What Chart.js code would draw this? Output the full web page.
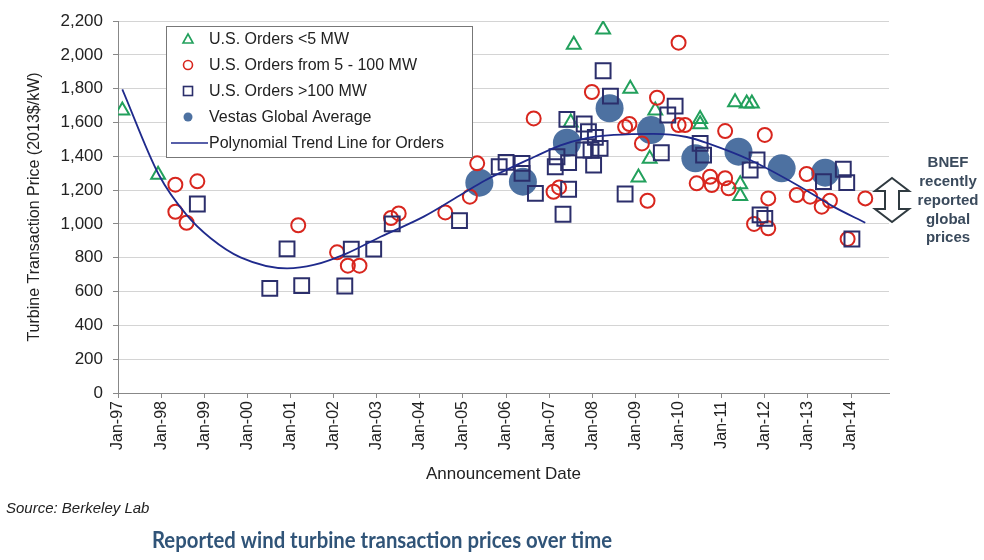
<!DOCTYPE html>
<html>
<head>
<meta charset="utf-8">
<script src="https://cdn.jsdelivr.net/npm/chart.js@4.4.1/dist/chart.umd.min.js"></script>
<style>
html, body { margin: 0; padding: 0; background: #fff; }
</style>
</head>
<body>
<canvas id="turbineChart" width="984" height="560"></canvas>
<script>
// values: [decimal year, $/kW]
var smallOrders = [
    [1997.1, 1670], [1997.93, 1290], [2007.5, 1600], [2007.57, 2060], [2008.25, 2150],
    [2008.88, 1800], [2009.07, 1275], [2009.33, 1385], [2009.46, 1670], [2010.5, 1620],
    [2010.5, 1590], [2011.31, 1720], [2011.58, 1712], [2011.7, 1712], [2011.43, 1235],
    [2011.43, 1165]
];
var midOrders = [
    [1998.33, 1232], [1998.84, 1252], [1998.33, 1072], [1998.59, 1007], [2001.18, 992],
    [2002.08, 832], [2002.33, 753], [2002.6, 753], [2003.33, 1035], [2003.51, 1062],
    [2004.59, 1068], [2005.16, 1161], [2005.33, 1358], [2006.64, 1624], [2007.1, 1190],
    [2007.23, 1216], [2007.99, 1780], [2008.76, 1573], [2008.86, 1591], [2009.15, 1476],
    [2009.28, 1137], [2009.5, 1746], [2010.0, 2072], [2010.0, 1585], [2010.15, 1585],
    [2010.42, 1240], [2010.73, 1279], [2010.77, 1230], [2011.08, 1549], [2011.08, 1270],
    [2011.16, 1211], [2012.0, 1526], [2012.08, 1151], [2011.75, 1000], [2012.08, 974],
    [2012.97, 1295], [2012.74, 1171], [2013.05, 1161], [2013.32, 1102], [2013.51, 1137],
    [2014.33, 1151], [2013.92, 911]
];
var largeOrders = [
    [1998.84, 1118], [2000.52, 619], [2000.92, 852], [2001.26, 635], [2002.26, 633],
    [2002.41, 851], [2002.93, 851], [2003.36, 1000], [2004.92, 1019], [2005.84, 1338],
    [2006.0, 1364], [2006.37, 1358], [2006.37, 1299], [2006.68, 1181], [2007.14, 1338],
    [2007.18, 1397], [2007.32, 1057], [2007.45, 1205], [2007.41, 1618], [2007.45, 1362],
    [2007.81, 1591], [2007.91, 1545], [2007.8, 1437], [2007.97, 1437], [2008.03, 1348],
    [2008.18, 1447], [2008.07, 1512], [2008.25, 1906], [2008.42, 1756], [2008.76, 1177],
    [2009.6, 1421], [2009.92, 1697], [2009.75, 1644], [2010.5, 1476], [2010.58, 1407],
    [2011.82, 1378], [2011.66, 1319], [2011.89, 1053], [2012.0, 1033], [2013.36, 1250],
    [2013.82, 1323], [2013.9, 1244], [2014.02, 911]
];
var vestasAverage = [
    [2005.38, 1244], [2006.39, 1250], [2007.41, 1480], [2008.4, 1684], [2009.36, 1555],
    [2010.39, 1388], [2011.39, 1427], [2012.39, 1329], [2013.4, 1303]
];
var trendLine = [
    [1997.1, 1796], [1997.95, 1289], [1998.59, 1053], [1999.15, 915], [1999.84, 802],
    [2000.92, 737], [2001.54, 757], [2002.31, 826], [2003.09, 924], [2004.09, 1043],
    [2005.0, 1180], [2005.5, 1255], [2006.66, 1397], [2007.26, 1465], [2007.82, 1505],
    [2008.5, 1526], [2009.42, 1533], [2010.19, 1514], [2010.73, 1472], [2011.66, 1378],
    [2012.82, 1220], [2013.59, 1102], [2014.33, 1007]
];

var seriesNames = ['U.S. Orders <5 MW', 'U.S. Orders from 5 - 100 MW', 'U.S. Orders >100 MW',
    'Vestas Global Average', 'Polynomial Trend Line for Orders'];
var bnefLines = ['BNEF', 'recently', 'reported', 'global', 'prices'];
var xAxisTitle = 'Announcement Date';
var yAxisTitle = 'Turbine Transaction Price (2013$/kW)';
var sourceNote = 'Source: Berkeley Lab';
var bottomTitle = 'Reported wind turbine transaction prices over time';

var GREEN = '#22a05c';
var RED = '#d8261e';
var NAVY = '#2b2e6b';
var STEEL = '#4d71a1';
var TREND = '#1f2a8c';
var FONT = '"Liberation Sans", Arial, sans-serif';

function toPoints(pairs) {
    return pairs.map(function (p) { return { x: p[0], y: p[1] }; });
}

// legend box drawn inside the plot, like the original
function drawLegend(ctx) {
    var left = 166, top = 26, w = 306, h = 131;
    var rows = [39, 65, 91, 117, 143];
    var mx = 188, tx = 209;
    ctx.save();
    ctx.fillStyle = '#fff';
    ctx.fillRect(left, top, w, h);
    ctx.strokeStyle = '#777';
    ctx.lineWidth = 1;
    ctx.strokeRect(left + 0.5, top + 0.5, w, h);

    ctx.lineWidth = 1.6;
    // triangle
    ctx.strokeStyle = GREEN;
    ctx.beginPath();
    ctx.moveTo(mx, rows[0] - 5);
    ctx.lineTo(mx + 5, rows[0] + 4);
    ctx.lineTo(mx - 5, rows[0] + 4);
    ctx.closePath();
    ctx.stroke();
    // circle
    ctx.strokeStyle = RED;
    ctx.beginPath();
    ctx.arc(mx, rows[1], 4.5, 0, Math.PI * 2);
    ctx.stroke();
    // square
    ctx.strokeStyle = NAVY;
    ctx.strokeRect(mx - 4.5, rows[2] - 4.5, 9, 9);
    // filled dot
    ctx.fillStyle = STEEL;
    ctx.beginPath();
    ctx.arc(mx, rows[3], 4.5, 0, Math.PI * 2);
    ctx.fill();
    // line
    ctx.strokeStyle = TREND;
    ctx.lineWidth = 1.6;
    ctx.beginPath();
    ctx.moveTo(171, rows[4]);
    ctx.lineTo(208, rows[4]);
    ctx.stroke();

    ctx.fillStyle = '#222';
    ctx.font = '16px ' + FONT;
    ctx.textBaseline = 'middle';
    for (var i = 0; i < seriesNames.length; i++) {
        ctx.fillText(seriesNames[i], tx, rows[i] + 1);
    }
    ctx.restore();
}

function drawBnef(ctx) {
    var cx = 892, top = 178, bottom = 222, hw = 17, sw = 7, hh = 13;
    ctx.save();
    ctx.beginPath();
    ctx.moveTo(cx, top);
    ctx.lineTo(cx + hw, top + hh);
    ctx.lineTo(cx + sw, top + hh);
    ctx.lineTo(cx + sw, bottom - hh);
    ctx.lineTo(cx + hw, bottom - hh);
    ctx.lineTo(cx, bottom);
    ctx.lineTo(cx - hw, bottom - hh);
    ctx.lineTo(cx - sw, bottom - hh);
    ctx.lineTo(cx - sw, top + hh);
    ctx.lineTo(cx - hw, top + hh);
    ctx.closePath();
    ctx.fillStyle = '#fff';
    ctx.fill();
    ctx.strokeStyle = '#2f3a40';
    ctx.lineWidth = 2;
    ctx.stroke();

    ctx.fillStyle = '#3a4a5c';
    ctx.font = 'bold 15px ' + FONT;
    ctx.textAlign = 'center';
    ctx.textBaseline = 'middle';
    for (var i = 0; i < bnefLines.length; i++) {
        ctx.fillText(bnefLines[i], 948, 163 + i * 18.8);
    }
    ctx.restore();
}

var extrasPlugin = {
    id: 'extras',
    afterDraw: function (chart) {
        var ctx = chart.ctx;
        drawLegend(ctx);
        drawBnef(ctx);
        ctx.save();
        ctx.textBaseline = 'middle';
        ctx.fillStyle = '#222';
        ctx.font = 'italic 15px ' + FONT;
        ctx.fillText(sourceNote, 6, 509);
        ctx.fillStyle = '#305478';
        ctx.font = 'bold 23px Lato, "Open Sans", sans-serif';
        ctx.fillText(bottomTitle, 152, 541, 460);
        ctx.restore();
    }
};

var ctx = document.getElementById('turbineChart').getContext('2d');
new Chart(ctx, {
    type: 'scatter',
    data: {
        datasets: [
            {
                label: seriesNames[4],
                data: toPoints(trendLine),
                showLine: true,
                borderColor: TREND,
                borderWidth: 1.8,
                pointRadius: 0,
                cubicInterpolationMode: 'monotone',
                order: 0
            },
            {
                label: seriesNames[2],
                data: toPoints(largeOrders),
                pointStyle: 'rect',
                pointRadius: 10.5,
                borderColor: NAVY,
                backgroundColor: 'rgba(255,255,255,0)',
                borderWidth: 2,
                order: 1
            },
            {
                label: seriesNames[1],
                data: toPoints(midOrders),
                pointStyle: 'circle',
                pointRadius: 7,
                borderColor: RED,
                backgroundColor: 'rgba(255,255,255,0)',
                borderWidth: 2,
                order: 2
            },
            {
                label: seriesNames[0],
                data: toPoints(smallOrders),
                pointStyle: 'triangle',
                pointRadius: 8,
                borderColor: GREEN,
                backgroundColor: 'rgba(255,255,255,0)',
                borderWidth: 2,
                order: 3
            },
            {
                label: seriesNames[3],
                data: toPoints(vestasAverage),
                pointStyle: 'circle',
                pointRadius: 14,
                borderWidth: 0,
                backgroundColor: STEEL,
                order: 4
            }
        ]
    },
    options: {
        responsive: false,
        animation: false,
        layout: { padding: { left: 0, top: 21, right: 95, bottom: 70 } },
        plugins: {
            legend: { display: false },
            tooltip: { enabled: false }
        },
        scales: {
            x: {
                type: 'linear',
                min: 1997,
                max: 2014.88,
                afterFit: function (scale) { scale.height = 97; },
                ticks: {
                    stepSize: 1,
                    includeBounds: false,
                    autoSkip: false,
                    minRotation: 90,
                    maxRotation: 90,
                    padding: 3,
                    color: '#222',
                    font: { family: FONT, size: 16 },
                    callback: function (v) {
                        return 'Jan-' + String(Math.round(v) % 100).padStart(2, '0');
                    }
                },
                grid: { drawOnChartArea: false, drawTicks: true, tickLength: 5, tickColor: '#888' },
                border: { color: '#888', width: 1 },
                title: {
                    display: true,
                    text: xAxisTitle,
                    color: '#222',
                    font: { family: FONT, size: 17 },
                    padding: { top: 0, bottom: 5 }
                }
            },
            y: {
                min: 0,
                max: 2200,
                afterFit: function (scale) { scale.width = 118; },
                ticks: {
                    stepSize: 200,
                    padding: 10,
                    color: '#222',
                    font: { family: FONT, size: 17 },
                    callback: function (v) { return v.toLocaleString('en-US'); }
                },
                grid: { color: '#d4d4d4', lineWidth: 1, tickLength: 5, tickColor: '#888' },
                border: { color: '#888', width: 1 },
                title: {
                    display: true,
                    text: yAxisTitle,
                    color: '#222',
                    font: { family: FONT, size: 16 },
                    padding: { top: 25, bottom: 0 }
                }
            }
        }
    },
    plugins: [extrasPlugin]
});
</script>
</body>
</html>
